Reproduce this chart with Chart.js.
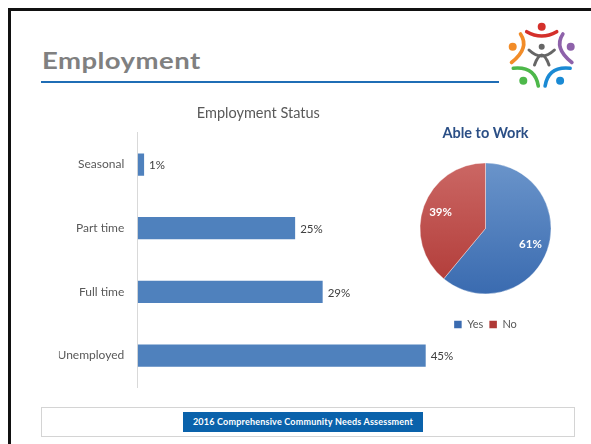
<!DOCTYPE html>
<html>
<head>
<meta charset="utf-8">
<script src="https://cdn.jsdelivr.net/npm/chart.js@4.4.0/dist/chart.umd.min.js"></script>
<style>
  html, body { margin: 0; padding: 0; background: #fff; }
  body { width: 591px; height: 444px; position: relative; overflow: hidden; font-family: Lato, "Open Sans", sans-serif; }
  #frame { position: absolute; left: 8px; top: 8px; width: 600px; height: 460px; border-left: 3px solid #111; border-top: 3px solid #111; }
  #title { position: absolute; left: 42px; top: 46px; font-size: 23.5px; font-weight: 700; color: #808080; letter-spacing: 0.4px;
           transform: scaleX(1.17); transform-origin: left top; }
  #rule { position: absolute; left: 41px; top: 81px; width: 458px; height: 1.5px; background: #1f6db5; }
  #logo { position: absolute; left: 502px; top: 18px; }
  #barChart { position: absolute; left: 40px; top: 100px; }
  #pieChart { position: absolute; left: 405px; top: 115px; }
  #footer { position: absolute; left: 41px; top: 407px; width: 534px; height: 30px; border: 1px solid #d4d4d4; box-sizing: border-box; }
  #banner { position: absolute; left: 183px; top: 412px; width: 240px; height: 20px; background: #0a62ab; color: #fff;
            font-size: 9px; font-weight: 700; text-align: center; line-height: 20px; letter-spacing: 0.2px; }
</style>
</head>
<body>
<div id="frame"></div>
<div id="title">Employment</div>
<div id="rule"></div>
<canvas id="logo" width="80" height="75"></canvas>
<canvas id="barChart" width="440" height="308"></canvas>
<canvas id="pieChart" width="161" height="225"></canvas>
<div id="footer"></div>
<div id="banner">2016 Comprehensive Community Needs Assessment</div>

<script>
// ---- data ----
const statusLabels = ["Seasonal", "Part time", "Full time", "Unemployed"];
const statusValues = [1.0, 24.6, 28.9, 45.0];
const ableLabels = ["Yes", "No"];
const ableValues = [61, 39];

const FONT = "Lato, 'Open Sans', sans-serif";
const PIE_RADIUS = 65.5;

// ---- value labels at the end of each bar ----
const barValueLabels = {
    id: "barValueLabels",
    afterDatasetsDraw(chart) {
        const ctx = chart.ctx;
        ctx.save();
        ctx.fillStyle = "#404040";
        ctx.font = "11.5px " + FONT;
        ctx.textBaseline = "middle";
        chart.getDatasetMeta(0).data.forEach((bar, i) => {
            ctx.fillText(Math.round(statusValues[i]) + "%", bar.x + 5, bar.y + 1);
        });
        ctx.restore();
    }
};

// ---- percent labels inside the pie slices ----
const pieValueLabels = {
    id: "pieValueLabels",
    afterDatasetsDraw(chart) {
        const ctx = chart.ctx;
        ctx.save();
        ctx.fillStyle = "#ffffff";
        ctx.font = "bold 11.5px " + FONT;
        ctx.textAlign = "center";
        ctx.textBaseline = "middle";
        chart.getDatasetMeta(0).data.forEach((arc, i) => {
            const mid = (arc.startAngle + arc.endAngle) / 2;
            const r = arc.outerRadius * 0.73;
            ctx.fillText(ableValues[i] + "%", arc.x + Math.cos(mid) * r, arc.y + Math.sin(mid) * r);
        });
        ctx.restore();
    }
};

// slightly lighter at the top, darker at the bottom, like the original
const sliceColors = [["#6a94ca", "#3a6bb0"], ["#cb6764", "#b03936"]];
function sliceFill(c) {
    const [top, bottom] = sliceColors[c.dataIndex] || sliceColors[0];
    const area = c.chart.chartArea;
    if (!area) return bottom;
    const cy = (area.top + area.bottom) / 2;
    const g = c.chart.ctx.createLinearGradient(0, cy - PIE_RADIUS, 0, cy + PIE_RADIUS);
    g.addColorStop(0, top);
    g.addColorStop(1, bottom);
    return g;
}

// ---- Employment Status bar chart ----
new Chart(document.getElementById("barChart"), {
    type: "bar",
    data: {
        labels: statusLabels,
        datasets: [{
            data: statusValues,
            backgroundColor: "#4f81bd",
            barPercentage: 0.35,
            categoryPercentage: 1
        }]
    },
    options: {
        indexAxis: "y",
        responsive: false,
        animation: false,
        layout: { padding: { left: 18.9, right: 22.3, top: 0, bottom: 6.7 } },
        scales: {
            x: { display: false, min: 0, max: 50 },
            y: {
                grid: { display: false, drawTicks: false },
                border: { display: true, color: "#d9d9d9", width: 1 },
                ticks: { color: "#595959", font: { family: FONT, size: 12 }, padding: 13.4 },
                afterFit: (scale) => { scale.width = 78.8; }
            }
        },
        plugins: {
            legend: { display: false },
            tooltip: { enabled: false },
            title: {
                display: true,
                text: "Employment Status",
                color: "#595959",
                font: { family: FONT, size: 14.5, weight: "normal" },
                padding: { top: 4.6, bottom: 10.7 }
            }
        }
    },
    plugins: [barValueLabels]
});

// ---- Able to Work pie chart ----
new Chart(document.getElementById("pieChart"), {
    type: "pie",
    data: {
        labels: ableLabels,
        datasets: [{
            data: ableValues,
            backgroundColor: sliceFill,
            borderColor: "rgba(255,255,255,0.45)",
            borderWidth: 0.8,
            hoverOffset: 0
        }]
    },
    options: {
        responsive: false,
        animation: false,
        radius: PIE_RADIUS,
        plugins: {
            tooltip: { enabled: false },
            title: {
                display: true,
                text: "Able to Work",
                color: "#2b4f86",
                font: { family: FONT, size: 14.5, weight: "bold" },
                padding: { top: 9.6, bottom: 1.8 }
            },
            legend: {
                position: "bottom",
                labels: {
                    color: "#595959",
                    font: { family: FONT, size: 11 },
                    boxWidth: 7.5,
                    boxHeight: 7.5,
                    padding: 6,
                    generateLabels: (chart) => ableLabels.map((text, i) => ({
                        text,
                        fillStyle: sliceColors[i][1],
                        strokeStyle: sliceColors[i][1],
                        lineWidth: 0,
                        fontColor: "#595959",
                        index: i
                    }))
                }
            }
        }
    },
    plugins: [pieValueLabels]
});

// ---- logo (decoration) ----
const lg = document.getElementById("logo").getContext("2d");
lg.lineCap = "round";
lg.lineWidth = 3.6;
function arcPart(color, x0, y0, cx, cy, x1, y1) {
    lg.strokeStyle = color;
    lg.beginPath();
    lg.moveTo(x0, y0);
    lg.quadraticCurveTo(cx, cy, x1, y1);
    lg.stroke();
}
function dot(color, x, y, r) {
    lg.fillStyle = color;
    lg.beginPath();
    lg.arc(x, y, r, 0, Math.PI * 2);
    lg.fill();
}
arcPart("#d4302b", 24.7, 13.7, 39.7, 22.3, 54.7, 13.7);
dot("#d4302b", 39.7, 8.7, 4);
arcPart("#f28c28", 18.5, 16, 28, 30, 9.5, 44.5);
dot("#f28c28", 10.7, 28.7, 4);
arcPart("#8e62aa", 60.9, 16, 51.4, 30, 69.9, 44.5);
dot("#8e62aa", 68.7, 28.7, 4);
arcPart("#4db84a", 11.3, 50.3, 33, 48, 36.3, 68);
dot("#4db84a", 21.3, 62.7, 4);
arcPart("#1a8ad4", 68.1, 50.3, 46.4, 48, 43.1, 68);
dot("#1a8ad4", 58.1, 62.7, 4);
lg.lineWidth = 3;
arcPart("#666666", 27, 32, 39.7, 44, 52.4, 32);
arcPart("#666666", 32.5, 47, 39.7, 27, 47, 47);
dot("#666666", 39.7, 28.7, 3);
</script>
</body>
</html>
